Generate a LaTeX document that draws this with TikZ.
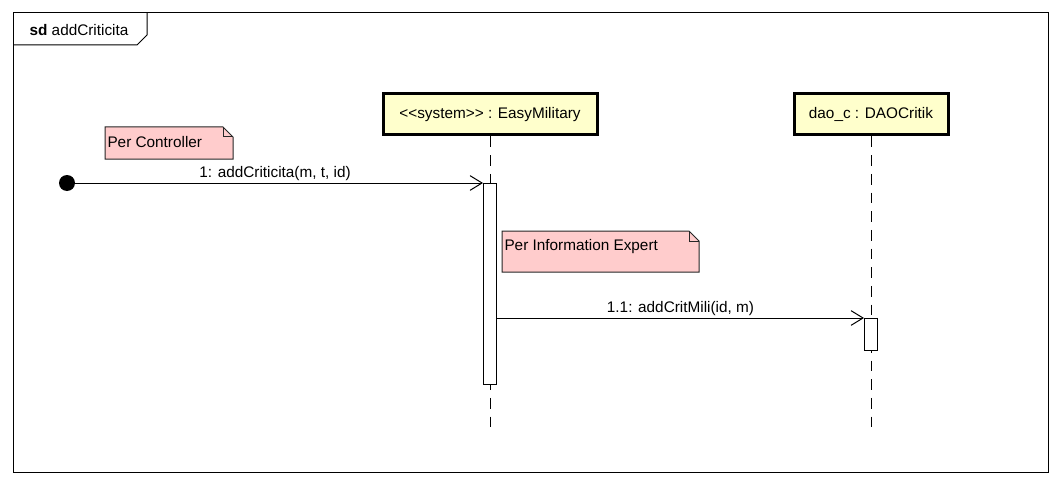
\documentclass[tikz,border=0pt]{standalone}
\usepackage{fontspec}
\setmainfont[Ligatures=NoCommon]{Liberation Sans}
\usetikzlibrary{positioning,arrows.meta,calc}

\definecolor{headfill}{HTML}{FFFFCC}
\definecolor{notefill}{HTML}{FFCCCC}

\tikzset{
  head/.style={draw, line width=2.25pt, fill=headfill, minimum height=30.75pt, inner sep=0pt},
  actbox/.style={draw, line width=0.75pt, fill=white, minimum width=9.75pt, inner sep=0pt, anchor=north},
  lifeline/.style={line width=0.75pt, dash pattern=on 8pt off 6pt},
  msg/.style={line width=0.75pt, -{Straight Barb[length=9pt,width=11pt,line width=0.75pt]}},
  notetext/.style={anchor=north west, inner sep=0pt},
  noteshape/.style={draw=black!85, line width=0.75pt, fill=notefill}
}

\begin{document}
\begin{tikzpicture}[x=0.75pt, y=-0.75pt, font=\fontsize{11.5}{13}\selectfont, line width=0.75pt]
  \useasboundingbox (0,0) rectangle (1061,485);

  % frame with sd tab
  \draw (13,13) rectangle (1048,472);
  \draw (13,45) -- (137,45) -- (147,35) -- (147,13);
  \node (title) at (79,30) {\textbf{sd} addCriticita};

  % lifeline heads
  \node[head, minimum width=160.5pt] (sys) at (490,114.5) {{<}{<}system{>}{>} : EasyMilitary};
  \node[head, minimum width=115.5pt] (dao) at (871,114.5) {dao\_c : DAOCritik};

  % lifelines
  \coordinate (sysend) at (490,428);
  \coordinate (daoend) at (871,428);
  \draw[lifeline] (sys.south) -- (sysend);
  \draw[lifeline] (dao.south) -- (daoend);

  % activations
  \node[actbox, minimum height=150.75pt] (act1) at (490,183) {};
  \node[actbox, minimum height=24pt] (act2) at (871,318) {};

  % found message
  \node[circle, fill=black, minimum size=12pt, inner sep=0pt] (start) at (67,183) {};
  \draw[msg] (start.center) -- node[above, inner sep=1.5pt] (m1) {1: addCriticita(m, t, id)} (act1.north west);
  \draw[msg] (act1.east |- act2.north) -- node[above, inner sep=1.5pt] (m2) {1.1: addCritMili(id, m)} (act2.north west);

  % note: Per Controller
  \coordinate (n1) at (105,127);
  \draw[noteshape] (n1) -- ++(118,0) -- ++(10,10) -- ++(0,22) -- ++(-128,0) -- cycle;
  \draw[black!85] ($(n1)+(118,0)$) -- ++(0,10) -- ++(10,0);
  \node[notetext] (note1) at (107,136) {Per Controller};

  % note: Per Information Expert
  \coordinate (n2) at (502,231);
  \draw[noteshape] (n2) -- ++(187,0) -- ++(10,10) -- ++(0,31) -- ++(-197,0) -- cycle;
  \draw[black!85] ($(n2)+(187,0)$) -- ++(0,10) -- ++(10,0);
  \node[notetext] (note2) at (504,239) {Per Information Expert};
\end{tikzpicture}
\end{document}
